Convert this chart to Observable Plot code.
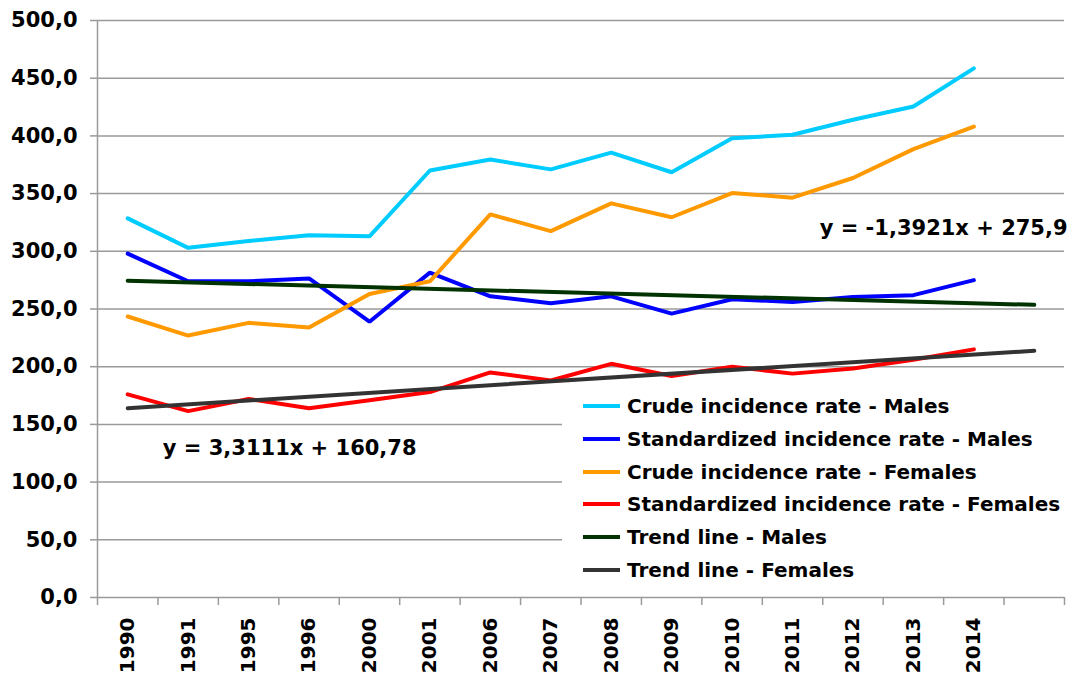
<!DOCTYPE html>
<html>
<head>
<meta charset="utf-8">
<script src="https://cdn.jsdelivr.net/npm/d3@7"></script>
<script src="https://cdn.jsdelivr.net/npm/@observablehq/plot@0.6"></script>
<style>
  html, body { margin: 0; padding: 0; background: #fff; }
  #wrap { position: relative; width: 1073px; height: 677px; font-family: "DejaVu Sans", Verdana, sans-serif; font-weight: bold; }
  #legend { position: absolute; left: 562px; top: 389.6px; width: 502px; background: #fff; }
  .row { height: 32.8px; display: flex; align-items: center; padding-left: 21px; font-size: 20px; color: #000; white-space: nowrap; }
  .sw { width: 37px; height: 4px; margin-right: 7px; flex: none; }
</style>
</head>
<body>
<div id="wrap"></div>
<script>
// Categories (x axis)
const years = ["1990","1991","1995","1996","2000","2001","2006","2007","2008","2009","2010","2011","2012","2013","2014"];
// Series values
const crudeMales   = [328.5, 303, 309, 314, 313, 370, 379.5, 371, 385.5, 368.5, 398, 401, 414, 425.5, 458.5];
const stdMales     = [298, 274, 274, 276.5, 239, 281.5, 261, 255, 261, 246, 258.5, 256, 260.5, 262, 275];
const crudeFemales = [243.5, 227, 238, 234, 263, 274, 332, 317.5, 341.5, 329.5, 350.5, 346.5, 363.5, 388.5, 408];
const stdFemales   = [176, 161.5, 172, 164, 171, 178, 195, 188, 202.5, 192, 200, 194, 198.5, 206, 215];
// Trend lines (start at category 1, end at category 16)
const trendIndex   = [1, 16];
const trendMales   = [274.5, 253.6];
const trendFemales = [164.1, 213.8];
// Series names & colours
const seriesNames  = ["Crude incidence rate - Males","Standardized incidence rate - Males","Crude incidence rate - Females","Standardized incidence rate - Females","Trend line - Males","Trend line - Females"];
const seriesColors = ["#00CCFF","#0000FF","#FF9900","#FF0000","#003300","#333333"];
const yTicks = [0,50,100,150,200,250,300,350,400,450,500];
const eqMales = "y = -1,3921x + 275,9";
const eqFemales = "y = 3,3111x + 160,78";

const idx = years.map((_, i) => i + 1);
const rows = [];
[crudeMales, stdMales, crudeFemales, stdFemales].forEach((arr, k) => {
  arr.forEach((v, i) => rows.push({x: i + 1, y: v, s: seriesNames[k]}));
});
[trendMales, trendFemales].forEach((arr, k) => {
  arr.forEach((v, i) => rows.push({x: trendIndex[i], y: v, s: seriesNames[4 + k]}));
});
const bounds = d3.range(0, 17).map(i => i + 0.5);
const fmt = d => d.toFixed(1).replace(".", ",");

const chart = Plot.plot({
  width: 1073, height: 677,
  marginLeft: 97, marginRight: 9, marginTop: 20, marginBottom: 80,
  style: {fontFamily: "DejaVu Sans, Verdana, sans-serif", fontWeight: "bold", background: "#fff", color: "#000"},
  x: {domain: [0.5, 16.5], axis: null},
  y: {domain: [0, 500], axis: null},
  color: {domain: seriesNames, range: seriesColors},
  marks: [
    Plot.ruleY(yTicks.filter(d => d > 0), {stroke: "#9a9a9a", strokeWidth: 1.5}),
    Plot.ruleY([0], {stroke: "#9a9a9a", strokeWidth: 1.5}),
    Plot.ruleX([0.5], {stroke: "#9a9a9a", strokeWidth: 1.5}),
    Plot.ruleX(bounds, {x: d => d, y1: 0, y2: -7, stroke: "#9a9a9a", strokeWidth: 1.5}),
    Plot.axisY({ticks: yTicks, tickFormat: fmt, tickSize: 7, tickPadding: 13, stroke: "#9a9a9a", fill: "#000", fontSize: 21, fontWeight: "bold", strokeWidth: 1.5, label: null}),
    Plot.axisX({ticks: idx, tickFormat: i => years[i - 1], tickSize: 0, tickPadding: 20, tickRotate: -90, fontSize: 20, fontWeight: "bold", fill: "#000", label: null}),
    Plot.line(rows, {x: "x", y: "y", z: "s", stroke: "s", strokeWidth: 4, strokeLinejoin: "miter"}),
    Plot.text([eqMales], {x: 14.5, y: 320, text: d => d, fontSize: 21, fontWeight: "bold", fill: "#000"}),
    Plot.text([eqFemales], {x: 3.68, y: 129, text: d => d, fontSize: 21, fontWeight: "bold", fill: "#000"})
  ]
});

const wrap = document.getElementById("wrap");
wrap.appendChild(chart);
const legend = document.createElement("div");
legend.id = "legend";
seriesNames.forEach((n, i) => {
  const r = document.createElement("div");
  r.className = "row";
  const sw = document.createElement("span");
  sw.className = "sw";
  sw.style.background = seriesColors[i];
  const t = document.createElement("span");
  t.textContent = n;
  r.appendChild(sw); r.appendChild(t);
  legend.appendChild(r);
});
wrap.appendChild(legend);
</script>
</body>
</html>
